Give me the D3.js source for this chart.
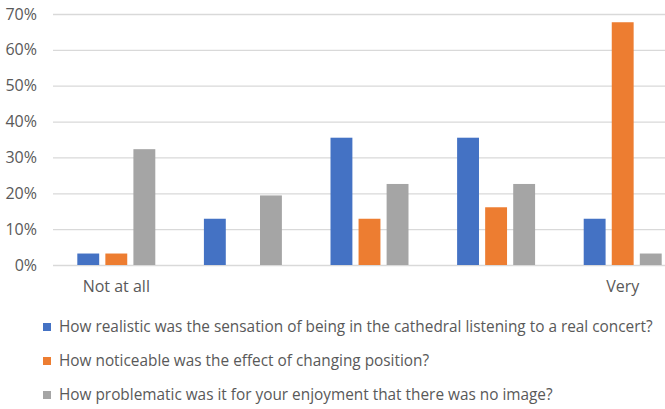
<!DOCTYPE html>
<html>
<head>
<meta charset="utf-8">
<script src="https://cdn.jsdelivr.net/npm/d3@7"></script>
<style>
  body { margin: 0; background: #fff; }
  text { font-family: "Open Sans", sans-serif; fill: #595959; }
</style>
</head>
<body>
<script>
// data
const categories = ["Not at all", "", "", "", "Very"];
const seriesNames = [
  "How realistic was the sensation of being in the cathedral listening to a real concert?",
  "How noticeable was the effect of changing position?",
  "How problematic was it for your enjoyment that there was no image?"
];
const realistic = [0.032, 0.129, 0.355, 0.355, 0.129];
const noticeable = [0.032, 0, 0.129, 0.161, 0.677];
const problematic = [0.323, 0.194, 0.226, 0.226, 0.032];
const yTicks = [0, 0.1, 0.2, 0.3, 0.4, 0.5, 0.6, 0.7];
const colors = ["#4472C4", "#ED7D31", "#A5A5A5"];

const series = [realistic, noticeable, problematic];

const width = 665, height = 409;
const plot = {left: 53, right: 686, top: 14, bottom: 265};

const svg = d3.select("body").append("svg")
    .attr("width", width)
    .attr("height", height);

// scales
const x0 = d3.scaleBand()
    .domain(d3.range(categories.length))
    .range([plot.left, plot.right])
    .paddingInner(0.384)
    .paddingOuter(0.192);
const x1 = d3.scaleBand()
    .domain(d3.range(series.length))
    .range([0, x0.bandwidth()])
    .paddingInner(0.22);
const y = d3.scaleLinear()
    .domain([0, 0.7])
    .range([plot.bottom, plot.top]);

// y axis with gridlines
const yAxis = svg.append("g")
    .attr("transform", `translate(${plot.left},0)`)
    .call(d3.axisLeft(y)
      .tickValues(yTicks)
      .tickFormat(d3.format(".0%"))
      .tickSize(-(plot.right - plot.left))
      .tickPadding(16));
yAxis.select(".domain").remove();
yAxis.selectAll("line").attr("stroke", "#d9d9d9").attr("stroke-width", 1.3);
yAxis.selectAll("text").style("font-size", "16px");

// bars
const groups = svg.selectAll(".group")
    .data(categories.map((c, i) => i))
  .enter().append("g")
    .attr("class", "group")
    .attr("transform", d => `translate(${x0(d)},0)`);

groups.selectAll("rect")
    .data(i => series.map((s, j) => ({j: j, v: s[i]})))
  .enter().append("rect")
    .attr("x", d => x1(d.j))
    .attr("width", x1.bandwidth())
    .attr("y", d => y(d.v))
    .attr("height", d => y(0) - y(d.v))
    .attr("fill", d => colors[d.j]);

// x axis labels
const xAxis = svg.append("g")
    .attr("transform", `translate(0,${plot.bottom})`)
    .call(d3.axisBottom(x0)
      .tickFormat(i => categories[i])
      .tickSize(0)
      .tickPadding(16));
xAxis.select(".domain").remove();
xAxis.selectAll("text").style("font-size", "16px");

// legend
const legend = svg.selectAll(".legend")
    .data(seriesNames)
  .enter().append("g")
    .attr("class", "legend")
    .attr("transform", (d, i) => `translate(43,${327 + i * 34})`);

legend.append("rect")
    .attr("y", -4)
    .attr("width", 8)
    .attr("height", 8)
    .attr("fill", (d, i) => colors[i]);

const legendText = legend.append("text")
    .attr("x", 16)
    .attr("dy", "0.35em")
    .style("font-size", "16px")
    .text(d => d);

// shrink the legend font so the longest entry ends where it does in the original
const longest = d3.max(legendText.nodes(), n => n.getComputedTextLength());
const fs = Math.min(16, 16 * 594 / longest);
legendText.style("font-size", fs + "px");
</script>
</body>
</html>
